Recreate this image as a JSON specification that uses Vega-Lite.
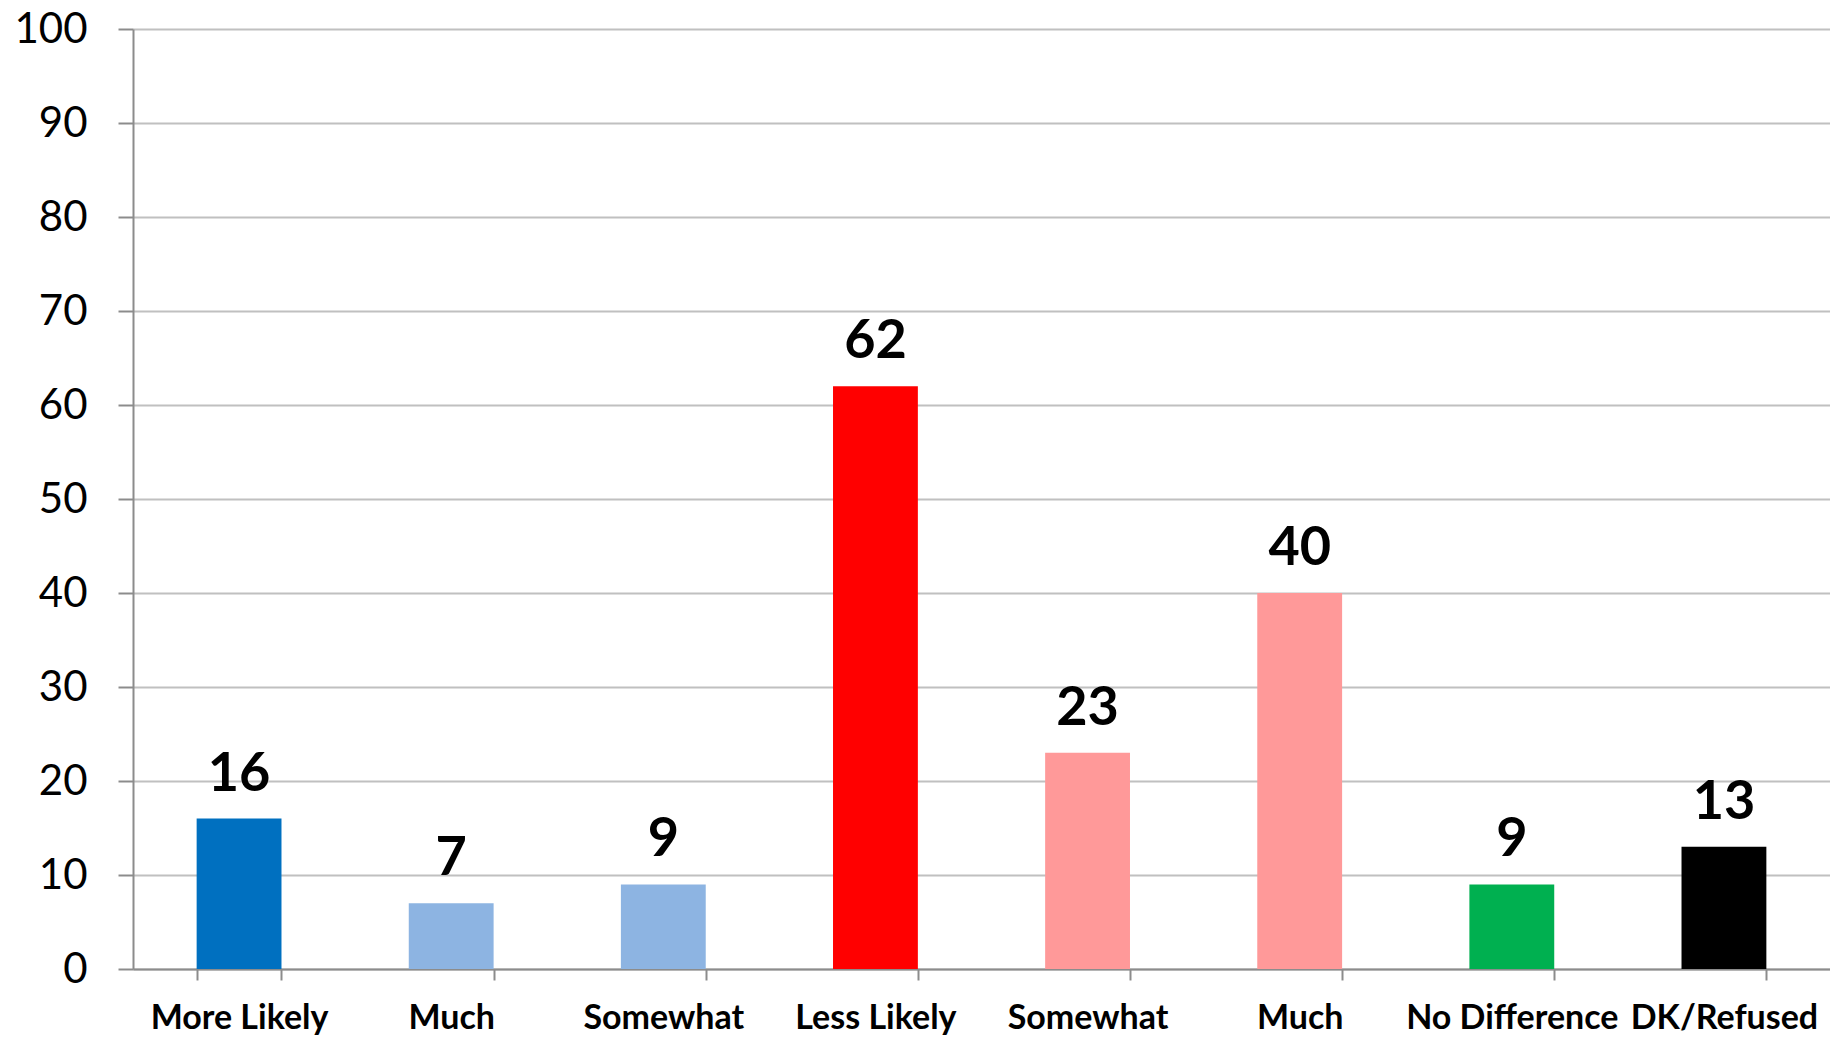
{
  "$schema": "https://vega.github.io/schema/vega-lite/v6.json",
  "width": 1697,
  "height": 940,
  "autosize": {"type": "none"},
  "padding": {"left": 133, "top": 29, "right": 0, "bottom": 68},
  "background": "white",
  "config": {
    "view": {"stroke": null},
    "font": "Lato"
  },
  "data": {
    "values": [
      {"key": "More Likely|1", "value": 16, "color": "#0070C0"},
      {"key": "Much|2", "value": 7, "color": "#8DB4E2"},
      {"key": "Somewhat|3", "value": 9, "color": "#8DB4E2"},
      {"key": "Less Likely|4", "value": 62, "color": "#FF0000"},
      {"key": "Somewhat|5", "value": 23, "color": "#FF9999"},
      {"key": "Much|6", "value": 40, "color": "#FF9999"},
      {"key": "No Difference|7", "value": 9, "color": "#00B050"},
      {"key": "DK/Refused|8", "value": 13, "color": "#000000"}
    ]
  },
  "encoding": {
    "x": {
      "field": "key",
      "type": "nominal",
      "sort": null,
      "scale": {"paddingInner": 0.6, "paddingOuter": 0.3},
      "axis": {
        "title": null,
        "labelExpr": "split(datum.label, '|')[0]",
        "labelAngle": 0,
        "labelFont": "Lato",
        "labelFontSize": 34,
        "labelFontWeight": "bold",
        "labelColor": "#000000",
        "labelPadding": 21,
        "labelOverlap": false,
        "labelFlush": false,
        "labelLimit": 400,
        "tickBand": "extent",
        "tickSize": 11,
        "tickWidth": 2,
        "tickColor": "#8c8c8c",
        "domainColor": "#8c8c8c",
        "domainWidth": 2,
        "grid": false
      }
    },
    "y": {
      "field": "value",
      "type": "quantitative",
      "scale": {"domain": [0, 100], "nice": false},
      "axis": {
        "title": null,
        "values": [0, 10, 20, 30, 40, 50, 60, 70, 80, 90, 100],
        "labelFont": "Lato",
        "labelFontSize": 42,
        "labelColor": "#000000",
        "labelPadding": 31,
        "tickSize": 15,
        "tickWidth": 2,
        "tickColor": "#8c8c8c",
        "domainColor": "#8c8c8c",
        "domainWidth": 2,
        "grid": true,
        "gridColor": "#c0c0c0",
        "gridWidth": 2,
        "labelFlush": false
      }
    }
  },
  "layer": [
    {
      "mark": {"type": "bar"},
      "encoding": {
        "color": {"field": "color", "type": "nominal", "scale": null}
      }
    },
    {
      "mark": {
        "type": "text",
        "baseline": "alphabetic",
        "align": "center",
        "dy": -28,
        "font": "Lato",
        "fontSize": 54,
        "fontWeight": "bold",
        "color": "#000000"
      },
      "encoding": {
        "text": {"field": "value", "type": "quantitative"}
      }
    }
  ]
}
